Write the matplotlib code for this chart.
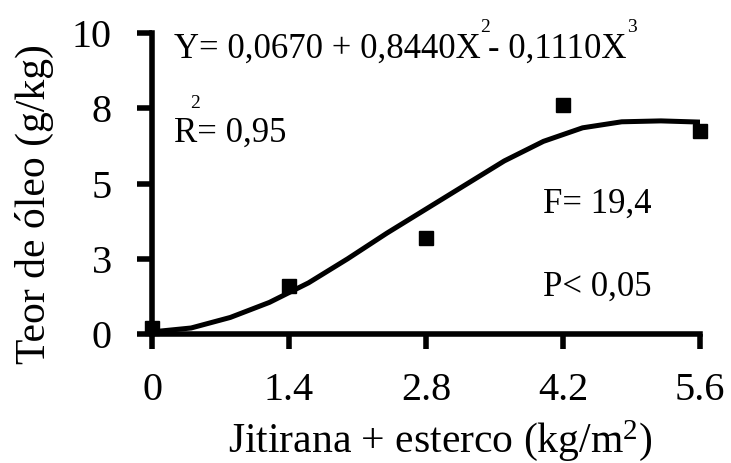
import matplotlib
matplotlib.use("Agg")
import matplotlib.pyplot as plt

plt.rcParams['font.family'] = ['Liberation Serif', 'DejaVu Serif']
plt.rcParams['mathtext.fontset'] = 'custom'
plt.rcParams['mathtext.rm'] = 'Liberation Serif'
plt.rcParams['mathtext.it'] = 'Liberation Serif'

# observed means
dose = [0, 1.4, 2.8, 4.2, 5.6]
oil = [0.2, 1.6, 3.2, 7.6, 6.75]

# fitted curve
fit_x = [0, 0.4, 0.8, 1.2, 1.6, 2.0, 2.4, 2.8, 3.2, 3.6, 4.0, 4.4, 4.8, 5.2, 5.6]
fit_y = [0.07, 0.2, 0.55, 1.05, 1.7, 2.5, 3.35, 4.15, 4.95, 5.75, 6.4, 6.85, 7.05, 7.08, 7.04]

xticks = [0, 1.4, 2.8, 4.2, 5.6]
xtick_labels = ['0', '1.4', '2.8', '4.2', '5.6']
yticks = [0, 2.5, 5, 7.5, 10]
ytick_labels = ['0', '3', '5', '8', '10']

W, H = 731, 463
fig = plt.figure(figsize=(W / 100, H / 100), dpi=100)
ax = fig.add_axes([152 / W, 1 - 334 / H, 548 / W, 301 / H])

ax.plot(fit_x, fit_y, color='black', lw=3.6, zorder=2, solid_capstyle='round')
ax.plot(dose, oil, 's', color='black', ms=10.5, zorder=3, clip_on=False)

ax.set_xlim(0, 5.6)
ax.set_ylim(0, 10)
ax.set_xticks(xticks)
ax.set_xticklabels(xtick_labels)
ax.set_yticks(yticks)
ax.set_yticklabels(ytick_labels)

for side in ['top', 'right']:
    ax.spines[side].set_visible(False)
for side in ['left', 'bottom']:
    ax.spines[side].set_linewidth(4)
    ax.spines[side].set_capstyle('projecting')

ax.tick_params(axis='both', direction='out', length=11, width=4, labelsize=29, colors='black')
ax.tick_params(axis='x', pad=16)
ax.tick_params(axis='y', pad=18)

fig.text(440 / W, 1 - 452 / H, r'Jitirana + esterco (kg/m$^{2}$)', fontsize=30,
         ha='center', va='baseline')
fig.text(34 / W, 1 - 204 / H, 'Teor de óleo (g/kg)', fontsize=30, rotation=90,
         ha='center', va='center')

# regression equation and statistics
ax.text(0.22, 9.17, 'Y= 0,0670 + 0,8440X', fontsize=25, va='baseline')
ax.text(3.35, 10.03, '2', fontsize=14, va='baseline')
ax.text(3.43, 9.17, '- 0,1110X', fontsize=25, va='baseline')
ax.text(4.85, 10.03, '3', fontsize=14, va='baseline')
ax.text(0.22, 6.39, 'R= 0,95', fontsize=25, va='baseline')
ax.text(0.39, 7.5, '2', fontsize=14, va='baseline')
ax.text(4.0, 4.04, 'F= 19,4', fontsize=25, va='baseline')
ax.text(4.0, 1.26, 'P< 0,05', fontsize=25, va='baseline')

fig.savefig('out.png', dpi=100)
